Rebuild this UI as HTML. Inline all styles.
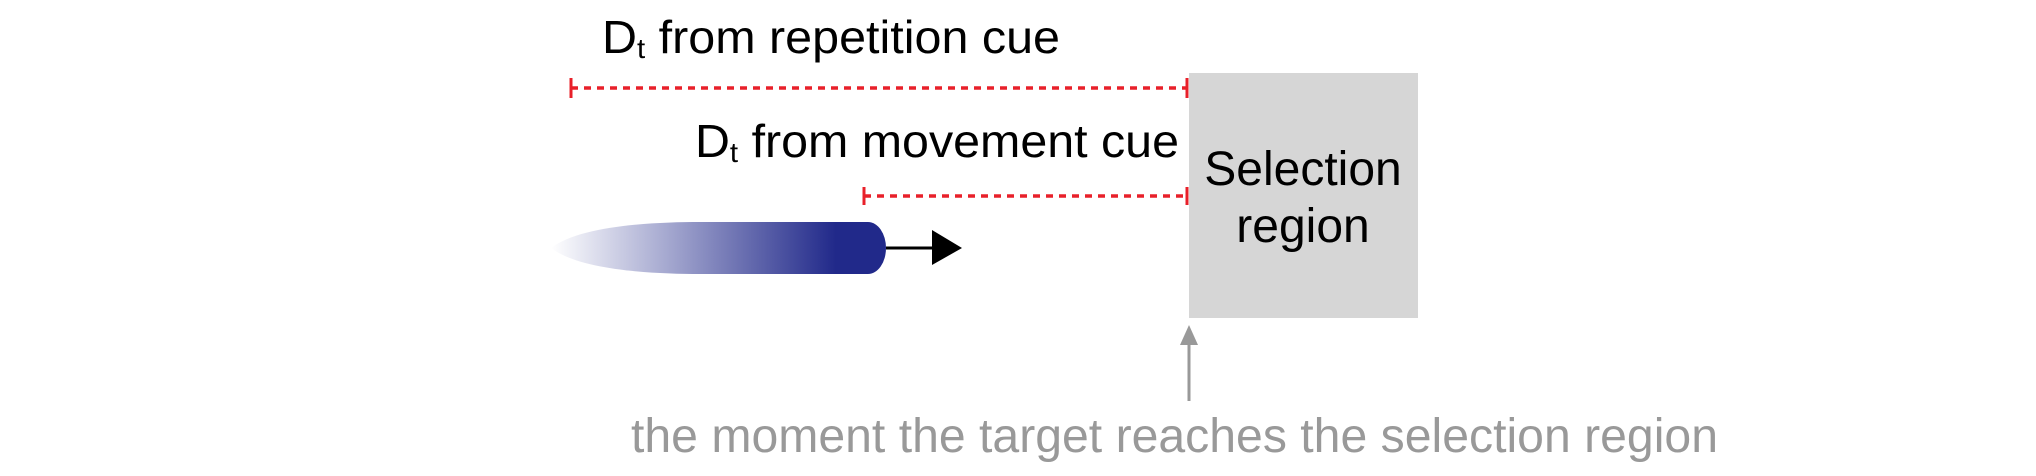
<!DOCTYPE html>
<html><head><meta charset="utf-8"><style>
html,body{margin:0;padding:0;background:#fff;}
svg{display:block}
text{font-family:"Liberation Sans",Arial,sans-serif;}
</style></head><body>
<svg width="2036" height="476" viewBox="0 0 2036 476" xmlns="http://www.w3.org/2000/svg">
<defs>
<linearGradient id="g" x1="551" y1="0" x2="886" y2="0" gradientUnits="userSpaceOnUse">
<stop offset="0" stop-color="#21298a" stop-opacity="0"/>
<stop offset="0.3" stop-color="#21298a" stop-opacity="0.35"/>
<stop offset="0.85" stop-color="#21298a" stop-opacity="1"/>
<stop offset="1" stop-color="#21298a" stop-opacity="1"/>
</linearGradient>
</defs>
<text x="602" y="53" font-size="46" fill="#000" textLength="458" lengthAdjust="spacingAndGlyphs">D<tspan font-size="28" dy="5">t</tspan><tspan dy="-5"> from repetition cue</tspan></text>
<text x="695" y="157" font-size="46" fill="#000" textLength="484" lengthAdjust="spacingAndGlyphs">D<tspan font-size="28" dy="5">t</tspan><tspan dy="-5"> from movement cue</tspan></text>
<rect x="1189" y="73" width="229" height="245" fill="#d6d6d6"/>
<text x="1303" y="185" font-size="48" text-anchor="middle" fill="#000">Selection</text>
<text x="1303" y="242" font-size="48" text-anchor="middle" fill="#000">region</text>
<line x1="571" y1="88" x2="1187" y2="88" stroke="#e8202a" stroke-width="3.5" stroke-dasharray="7,6"/>
<line x1="571" y1="78" x2="571" y2="98" stroke="#e8202a" stroke-width="3"/>
<line x1="1187" y1="78" x2="1187" y2="98" stroke="#e8202a" stroke-width="3"/>
<line x1="864" y1="196" x2="1187" y2="196" stroke="#e8202a" stroke-width="3.5" stroke-dasharray="7,6"/>
<line x1="864" y1="187" x2="864" y2="205" stroke="#e8202a" stroke-width="3"/>
<line x1="1187" y1="187" x2="1187" y2="205" stroke="#e8202a" stroke-width="3"/>
<path d="M551 248 C580 226 650 222 700 222 L868 222 A18 26 0 0 1 868 274 L700 274 C650 274 580 270 551 248 Z" fill="url(#g)"/>
<line x1="886" y1="248" x2="935" y2="248" stroke="#000" stroke-width="3"/>
<polygon points="932,230 962,248 932,265" fill="#000"/>
<line x1="1189" y1="340" x2="1189" y2="401" stroke="#999" stroke-width="3"/>
<polygon points="1180,345 1189,325 1198,345" fill="#999"/>
<text x="631" y="452" font-size="48" fill="#999" textLength="1087" lengthAdjust="spacingAndGlyphs">the moment the target reaches the selection region</text>
</svg>
</body></html>
